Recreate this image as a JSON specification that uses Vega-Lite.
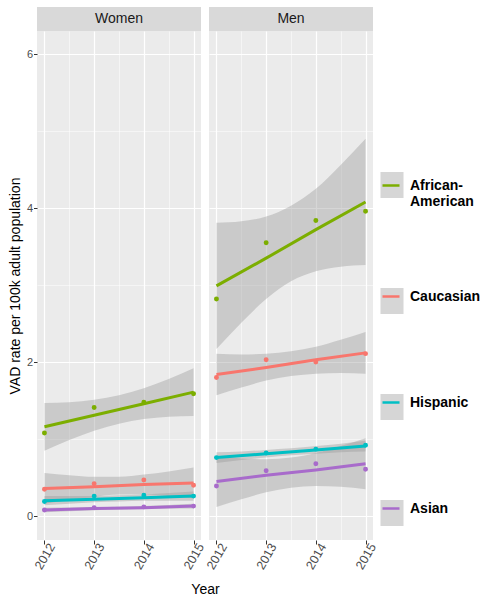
{
  "$schema": "https://vega.github.io/schema/vega-lite/v6.json",
  "background": "white",
  "padding": {"left": 8, "top": 7, "right": 0, "bottom": 0},
  "datasets": {
    "strips": [{"sex": "Women"}, {"sex": "Men"}],
    "points": [
      {"sex": "Women", "race": "African-American", "year": 2012, "rate": 1.08, "fit": 1.16},
      {"sex": "Women", "race": "African-American", "year": 2013, "rate": 1.41, "fit": 1.31},
      {"sex": "Women", "race": "African-American", "year": 2014, "rate": 1.48, "fit": 1.46},
      {"sex": "Women", "race": "African-American", "year": 2015, "rate": 1.59, "fit": 1.61},
      {"sex": "Women", "race": "Caucasian", "year": 2012, "rate": 0.35, "fit": 0.36},
      {"sex": "Women", "race": "Caucasian", "year": 2013, "rate": 0.42, "fit": 0.38},
      {"sex": "Women", "race": "Caucasian", "year": 2014, "rate": 0.47, "fit": 0.41},
      {"sex": "Women", "race": "Caucasian", "year": 2015, "rate": 0.4, "fit": 0.43},
      {"sex": "Women", "race": "Hispanic", "year": 2012, "rate": 0.19, "fit": 0.2},
      {"sex": "Women", "race": "Hispanic", "year": 2013, "rate": 0.26, "fit": 0.22},
      {"sex": "Women", "race": "Hispanic", "year": 2014, "rate": 0.27, "fit": 0.24},
      {"sex": "Women", "race": "Hispanic", "year": 2015, "rate": 0.26, "fit": 0.26},
      {"sex": "Women", "race": "Asian", "year": 2012, "rate": 0.08, "fit": 0.08},
      {"sex": "Women", "race": "Asian", "year": 2013, "rate": 0.11, "fit": 0.1},
      {"sex": "Women", "race": "Asian", "year": 2014, "rate": 0.12, "fit": 0.11},
      {"sex": "Women", "race": "Asian", "year": 2015, "rate": 0.13, "fit": 0.13},
      {"sex": "Men", "race": "African-American", "year": 2012, "rate": 2.82, "fit": 2.99},
      {"sex": "Men", "race": "African-American", "year": 2013, "rate": 3.55, "fit": 3.35},
      {"sex": "Men", "race": "African-American", "year": 2014, "rate": 3.84, "fit": 3.72},
      {"sex": "Men", "race": "African-American", "year": 2015, "rate": 3.96, "fit": 4.08},
      {"sex": "Men", "race": "Caucasian", "year": 2012, "rate": 1.8, "fit": 1.84},
      {"sex": "Men", "race": "Caucasian", "year": 2013, "rate": 2.03, "fit": 1.93},
      {"sex": "Men", "race": "Caucasian", "year": 2014, "rate": 2.0, "fit": 2.03},
      {"sex": "Men", "race": "Caucasian", "year": 2015, "rate": 2.11, "fit": 2.12},
      {"sex": "Men", "race": "Hispanic", "year": 2012, "rate": 0.76, "fit": 0.76},
      {"sex": "Men", "race": "Hispanic", "year": 2013, "rate": 0.82, "fit": 0.81},
      {"sex": "Men", "race": "Hispanic", "year": 2014, "rate": 0.87, "fit": 0.86},
      {"sex": "Men", "race": "Hispanic", "year": 2015, "rate": 0.92, "fit": 0.91},
      {"sex": "Men", "race": "Asian", "year": 2012, "rate": 0.39, "fit": 0.45},
      {"sex": "Men", "race": "Asian", "year": 2013, "rate": 0.59, "fit": 0.53},
      {"sex": "Men", "race": "Asian", "year": 2014, "rate": 0.68, "fit": 0.6},
      {"sex": "Men", "race": "Asian", "year": 2015, "rate": 0.61, "fit": 0.68}
    ],
    "bands": [
      {"sex": "Women", "group": "African-American", "year": 2012, "lo": 0.85, "hi": 1.47},
      {"sex": "Women", "group": "African-American", "year": 2012.5, "lo": 0.99, "hi": 1.48},
      {"sex": "Women", "group": "African-American", "year": 2013, "lo": 1.11, "hi": 1.51},
      {"sex": "Women", "group": "African-American", "year": 2013.5, "lo": 1.2, "hi": 1.57},
      {"sex": "Women", "group": "African-American", "year": 2014, "lo": 1.26, "hi": 1.66},
      {"sex": "Women", "group": "African-American", "year": 2014.5, "lo": 1.29, "hi": 1.78},
      {"sex": "Women", "group": "African-American", "year": 2015, "lo": 1.3, "hi": 1.92},
      {"sex": "Women", "group": "Caucasian", "year": 2012, "lo": 0.16, "hi": 0.56},
      {"sex": "Women", "group": "Caucasian", "year": 2012.5, "lo": 0.21, "hi": 0.53},
      {"sex": "Women", "group": "Caucasian", "year": 2013, "lo": 0.25, "hi": 0.51},
      {"sex": "Women", "group": "Caucasian", "year": 2013.5, "lo": 0.28, "hi": 0.51},
      {"sex": "Women", "group": "Caucasian", "year": 2014, "lo": 0.28, "hi": 0.54},
      {"sex": "Women", "group": "Caucasian", "year": 2014.5, "lo": 0.26, "hi": 0.58},
      {"sex": "Women", "group": "Caucasian", "year": 2015, "lo": 0.23, "hi": 0.63},
      {"sex": "Women", "group": "Hispanic", "year": 2012, "lo": 0.14, "hi": 0.26},
      {"sex": "Women", "group": "Hispanic", "year": 2012.5, "lo": 0.16, "hi": 0.26},
      {"sex": "Women", "group": "Hispanic", "year": 2013, "lo": 0.18, "hi": 0.26},
      {"sex": "Women", "group": "Hispanic", "year": 2013.5, "lo": 0.19, "hi": 0.27},
      {"sex": "Women", "group": "Hispanic", "year": 2014, "lo": 0.2, "hi": 0.28},
      {"sex": "Women", "group": "Hispanic", "year": 2014.5, "lo": 0.2, "hi": 0.3},
      {"sex": "Women", "group": "Hispanic", "year": 2015, "lo": 0.2, "hi": 0.32},
      {"sex": "Women", "group": "Asian", "year": 2012, "lo": 0.05, "hi": 0.11},
      {"sex": "Women", "group": "Asian", "year": 2012.5, "lo": 0.064, "hi": 0.112},
      {"sex": "Women", "group": "Asian", "year": 2013, "lo": 0.077, "hi": 0.117},
      {"sex": "Women", "group": "Asian", "year": 2013.5, "lo": 0.087, "hi": 0.123},
      {"sex": "Women", "group": "Asian", "year": 2014, "lo": 0.093, "hi": 0.133},
      {"sex": "Women", "group": "Asian", "year": 2014.5, "lo": 0.098, "hi": 0.146},
      {"sex": "Women", "group": "Asian", "year": 2015, "lo": 0.1, "hi": 0.16},
      {"sex": "Men", "group": "African-American", "year": 2012, "lo": 2.17, "hi": 3.81},
      {"sex": "Men", "group": "African-American", "year": 2012.5, "lo": 2.51, "hi": 3.83},
      {"sex": "Men", "group": "African-American", "year": 2013, "lo": 2.82, "hi": 3.89},
      {"sex": "Men", "group": "African-American", "year": 2013.5, "lo": 3.05, "hi": 4.03},
      {"sex": "Men", "group": "African-American", "year": 2014, "lo": 3.18, "hi": 4.25},
      {"sex": "Men", "group": "African-American", "year": 2014.5, "lo": 3.24, "hi": 4.56},
      {"sex": "Men", "group": "African-American", "year": 2015, "lo": 3.26, "hi": 4.9},
      {"sex": "Men", "group": "Caucasian", "year": 2012, "lo": 1.57, "hi": 2.11},
      {"sex": "Men", "group": "Caucasian", "year": 2012.5, "lo": 1.67, "hi": 2.1},
      {"sex": "Men", "group": "Caucasian", "year": 2013, "lo": 1.76, "hi": 2.11},
      {"sex": "Men", "group": "Caucasian", "year": 2013.5, "lo": 1.82, "hi": 2.14},
      {"sex": "Men", "group": "Caucasian", "year": 2014, "lo": 1.85, "hi": 2.2},
      {"sex": "Men", "group": "Caucasian", "year": 2014.5, "lo": 1.86, "hi": 2.29},
      {"sex": "Men", "group": "Caucasian", "year": 2015, "lo": 1.85, "hi": 2.39},
      {"sex": "Men", "group": "Hispanic", "year": 2012, "lo": 0.69, "hi": 0.83},
      {"sex": "Men", "group": "Hispanic", "year": 2012.5, "lo": 0.73, "hi": 0.84},
      {"sex": "Men", "group": "Hispanic", "year": 2013, "lo": 0.76, "hi": 0.86},
      {"sex": "Men", "group": "Hispanic", "year": 2013.5, "lo": 0.79, "hi": 0.88},
      {"sex": "Men", "group": "Hispanic", "year": 2014, "lo": 0.81, "hi": 0.91},
      {"sex": "Men", "group": "Hispanic", "year": 2014.5, "lo": 0.83, "hi": 0.94},
      {"sex": "Men", "group": "Hispanic", "year": 2015, "lo": 0.84, "hi": 0.98},
      {"sex": "Men", "group": "Asian", "year": 2012, "lo": 0.12, "hi": 0.78},
      {"sex": "Men", "group": "Asian", "year": 2012.5, "lo": 0.22, "hi": 0.75},
      {"sex": "Men", "group": "Asian", "year": 2013, "lo": 0.31, "hi": 0.74},
      {"sex": "Men", "group": "Asian", "year": 2013.5, "lo": 0.37, "hi": 0.76},
      {"sex": "Men", "group": "Asian", "year": 2014, "lo": 0.39, "hi": 0.82},
      {"sex": "Men", "group": "Asian", "year": 2014.5, "lo": 0.38, "hi": 0.91},
      {"sex": "Men", "group": "Asian", "year": 2015, "lo": 0.35, "hi": 1.01}
    ]
  },
  "hconcat": [
    {
      "vconcat": [
        {
          "width": 164, "height": 24,
          "data": {"name": "strips"},
          "transform": [{"filter": "datum.sex === 'Women'"}],
          "mark": {"type": "text", "fontSize": 14, "color": "#1a1a1a"},
          "encoding": {"text": {"field": "sex", "type": "nominal"}},
          "view": {"fill": "#d9d9d9", "stroke": null}
        },
        {
          "width": 164, "height": 509,
          "view": {"fill": "#ebebeb", "stroke": null},
          "layer": [
            {
              "data": {"name": "bands"},
              "transform": [{"filter": "datum.sex === 'Women'"}],
              "mark": {"type": "area", "opacity": 0.4, "interpolate": "monotone"},
              "encoding": {
                "x": {"field": "year", "type": "quantitative", "scale": {"domain": [2011.85, 2015.15], "nice": false, "zero": false},
                  "axis": {"values": [2012, 2013, 2014, 2015], "format": "d", "labelAngle": -60, "labelAlign": "center", "labelBaseline": "middle", "labelPadding": 12, "labelFontSize": 12.5, "labelColor": "#4d4d4d", "labelFlush": false, "labelOverlap": false, "tickColor": "#333333", "tickSize": 4, "domain": false, "grid": true, "gridColor": "white", "gridWidth": 1.2, "title": "Year", "titleFontSize": 14, "titleFontWeight": "normal", "titleColor": "black", "titleX": 168, "titlePadding": 11}},
                "y": {"field": "lo", "type": "quantitative", "scale": {"domain": [-0.31, 6.3], "nice": false, "zero": false},
                  "axis": {"values": [0, 2, 4, 6], "labelFontSize": 11, "labelColor": "#4d4d4d", "labelPadding": 1, "tickSize": 3.5, "tickColor": "#333333", "domain": false, "grid": true, "gridColor": "white", "gridWidth": 1.2, "title": "VAD rate per 100k adult population", "titleFontSize": 14, "titleFontWeight": "normal", "titleColor": "black", "titlePadding": 4}},
                "y2": {"field": "hi"},
                "fill": {"field": "group", "type": "nominal",
                  "scale": {"domain": ["African-American", "Caucasian", "Hispanic", "Asian"], "range": ["#999999", "#999999", "#999999", "#999999"]},
                  "legend": {"orient": "none", "legendX": 345, "legendY": 168, "title": null, "padding": 0, "symbolType": "M-1.15,-1.3H1.15V1.3H-1.15Z", "symbolSize": 400, "symbolOpacity": 0.5, "symbolStrokeWidth": 0, "rowPadding": 80, "labelFontSize": 14, "labelFontWeight": "bold", "labelOpacity": 0, "labelOffset": 6, "labelExpr": "datum.label == 'African-American' ? [' ', ' '] : ' '"}}
              }
            },
            {
              "data": {"name": "points"},
              "transform": [{"filter": "datum.sex === 'Women'"}],
              "mark": {"type": "line", "strokeWidth": 3},
              "encoding": {
                "x": {"field": "year", "type": "quantitative", "axis": {"values": [2012.5, 2013.5, 2014.5], "orient": "top", "labels": false, "ticks": false, "domain": false, "grid": true, "gridColor": "white", "gridWidth": 0.5, "title": null}},
                "y": {"field": "fit", "type": "quantitative", "axis": {"values": [1, 3, 5], "orient": "right", "labels": false, "ticks": false, "domain": false, "grid": true, "gridColor": "white", "gridWidth": 0.5, "title": null}},
                "stroke": {"field": "race", "type": "nominal",
                  "sort": ["African-American", "Caucasian", "Hispanic", "Asian"],
                  "scale": {"range": ["#7CAE00", "#F8766D", "#00BFC4", "#A86BCB"]},
                  "legend": {"orient": "none", "legendX": 342.5, "legendY": 167, "title": null, "padding": 0, "symbolType": "M-1.15,-1.3M-0.85,0H0.85M1.15,1.3", "symbolSize": 400, "symbolStrokeWidth": 2.5, "symbolFillColor": "transparent", "rowPadding": 69, "labelFontSize": 14, "labelFontWeight": "bold", "labelColor": "black", "labelOffset": 7.5, "labelExpr": "datum.label == 'African-American' ? ['African-', 'American'] : datum.label"}}
              }
            },
            {
              "data": {"name": "points"},
              "transform": [{"filter": "datum.sex === 'Women'"}],
              "mark": {"type": "point", "filled": false, "size": 6, "strokeWidth": 2.5, "opacity": 1},
              "encoding": {
                "x": {"field": "year", "type": "quantitative", "axis": null},
                "y": {"field": "rate", "type": "quantitative", "axis": null},
                "stroke": {"field": "race", "type": "nominal", "sort": ["African-American", "Caucasian", "Hispanic", "Asian"]}
              }
            }
          ],
          "resolve": {"axis": {"x": "independent", "y": "independent"}}
        }
      ],
      "spacing": 0,
      "bounds": "flush"
    },
    {
      "vconcat": [
        {
          "width": 164, "height": 24,
          "data": {"name": "strips"},
          "transform": [{"filter": "datum.sex === 'Men'"}],
          "mark": {"type": "text", "fontSize": 14, "color": "#1a1a1a"},
          "encoding": {"text": {"field": "sex", "type": "nominal"}},
          "view": {"fill": "#d9d9d9", "stroke": null}
        },
        {
          "width": 164, "height": 509,
          "view": {"fill": "#ebebeb", "stroke": null},
          "layer": [
            {
              "data": {"name": "bands"},
              "transform": [{"filter": "datum.sex === 'Men'"}],
              "mark": {"type": "area", "opacity": 0.4, "interpolate": "monotone"},
              "encoding": {
                "x": {"field": "year", "type": "quantitative", "scale": {"domain": [2011.85, 2015.15], "nice": false, "zero": false},
                  "axis": {"values": [2012, 2013, 2014, 2015], "format": "d", "labelAngle": -60, "labelAlign": "center", "labelBaseline": "middle", "labelPadding": 12, "labelFontSize": 12.5, "labelColor": "#4d4d4d", "labelFlush": false, "labelOverlap": false, "tickColor": "#333333", "tickSize": 4, "domain": false, "grid": true, "gridColor": "white", "gridWidth": 1.2, "title": null}},
                "y": {"field": "lo", "type": "quantitative", "scale": {"domain": [-0.31, 6.3], "nice": false, "zero": false},
                  "axis": {"values": [0, 2, 4, 6], "labels": false, "ticks": false, "domain": false, "grid": true, "gridColor": "white", "gridWidth": 1.2, "title": null}},
                "y2": {"field": "hi"},
                "fill": {"field": "group", "type": "nominal"}
              }
            },
            {
              "data": {"name": "points"},
              "transform": [{"filter": "datum.sex === 'Men'"}],
              "mark": {"type": "line", "strokeWidth": 3},
              "encoding": {
                "x": {"field": "year", "type": "quantitative", "axis": {"values": [2012.5, 2013.5, 2014.5], "orient": "top", "labels": false, "ticks": false, "domain": false, "grid": true, "gridColor": "white", "gridWidth": 0.5, "title": null}},
                "y": {"field": "fit", "type": "quantitative", "axis": {"values": [1, 3, 5], "orient": "right", "labels": false, "ticks": false, "domain": false, "grid": true, "gridColor": "white", "gridWidth": 0.5, "title": null}},
                "stroke": {"field": "race", "type": "nominal", "sort": ["African-American", "Caucasian", "Hispanic", "Asian"]}
              }
            },
            {
              "data": {"name": "points"},
              "transform": [{"filter": "datum.sex === 'Men'"}],
              "mark": {"type": "point", "filled": false, "size": 6, "strokeWidth": 2.5, "opacity": 1},
              "encoding": {
                "x": {"field": "year", "type": "quantitative", "axis": null},
                "y": {"field": "rate", "type": "quantitative", "axis": null},
                "stroke": {"field": "race", "type": "nominal", "sort": ["African-American", "Caucasian", "Hispanic", "Asian"]}
              }
            }
          ],
          "resolve": {"axis": {"x": "independent", "y": "independent"}}
        }
      ],
      "spacing": 0,
      "bounds": "flush"
    }
  ],
  "spacing": -16,
  "align": "none",
  "resolve": {"scale": {"fill": "shared", "stroke": "shared"}},
  "config": {
    "font": "Liberation Sans",
    "view": {"stroke": null}
  }
}
